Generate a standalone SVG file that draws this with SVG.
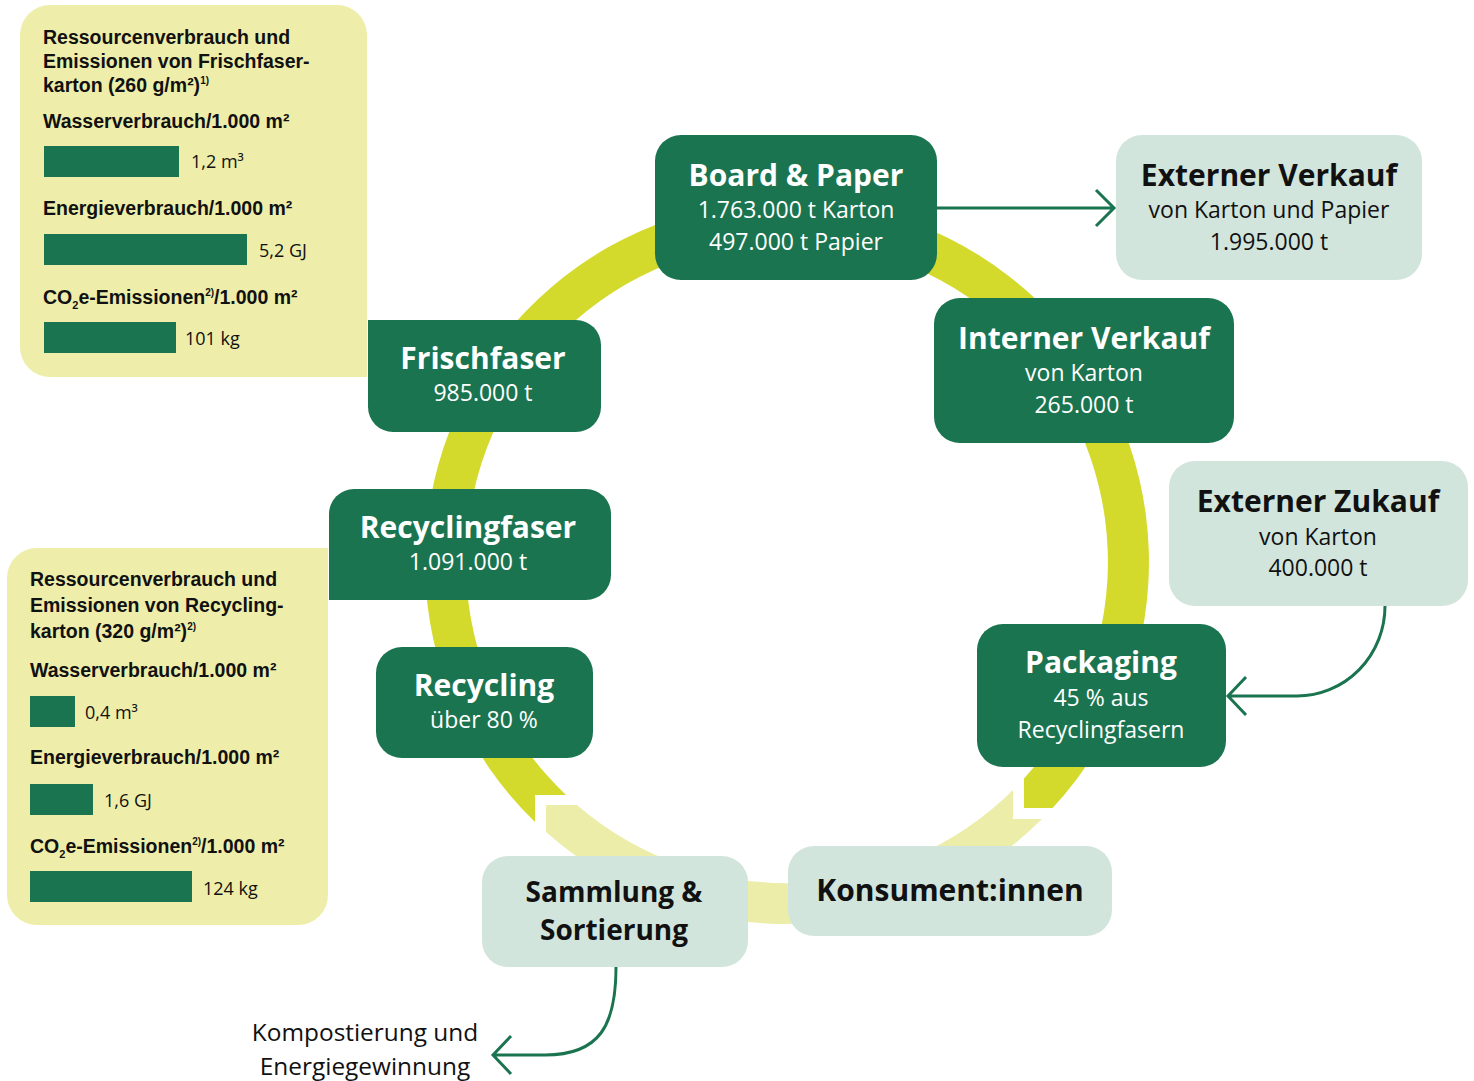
<svg xmlns="http://www.w3.org/2000/svg" width="1474" height="1081" viewBox="0 0 1474 1081">
<style>
.dk{fill:#1B7450}
.lt{fill:#D2E5DC}
.pn{fill:#EEEEAA}
.bar{fill:#1B7450}
text{font-family:"Open Sans","Liberation Sans",sans-serif}
.tw{font-weight:700;font-size:30px;fill:#fff;text-anchor:middle}
.tb{font-weight:700;font-size:30px;fill:#111;text-anchor:middle}
.sw{font-size:23px;fill:#fff;text-anchor:middle}
.sb{font-size:23px;fill:#111;text-anchor:middle}
.ph{font-family:"Liberation Sans",Arial,sans-serif;font-weight:700;font-size:19.5px;fill:#111}
.pv{font-size:18px;fill:#111}
.con{fill:none;stroke:#1B7450;stroke-width:3}
</style>
<g id="ring">
<path fill="#D4DA2C" d="M535,822 A362,362 0 1 1 1052.6,808 L1024,808 L1024,778.5 A321,321 0 1 0 566,795 L535,795 Z"/>
<path fill="#EDEDAA" d="M1042,819 A362,362 0 0 1 546,832 L546,805 L577,805 A321,321 0 0 0 1013,790 L1013,819 Z"/>
</g>
<g id="panel-frischfaser">
<path class="pn" d="M50,5 H337 A30,30 0 0 1 367,35 V377 H50 A30,30 0 0 1 20,347 V35 A30,30 0 0 1 50,5 Z"/>
<text class="ph" x="43" y="44">Ressourcenverbrauch und</text>
<text class="ph" x="43" y="68">Emissionen von Frischfaser-</text>
<text class="ph" x="43" y="92">karton (260 g/m²)<tspan style="font-size:10px" dy="-8">1)</tspan></text>
<text class="ph" x="43" y="128">Wasserverbrauch/1.000 m²</text>
<rect class="bar" x="44" y="146" width="135" height="31"/>
<text class="pv" x="191" y="168">1,2 m³</text>
<text class="ph" x="43" y="215">Energieverbrauch/1.000 m²</text>
<rect class="bar" x="44" y="234" width="203" height="31"/>
<text class="pv" x="259" y="257">5,2 GJ</text>
<text class="ph" x="43" y="304">CO<tspan style="font-size:11px" dy="5">2</tspan><tspan dy="-5">e-Emissionen</tspan><tspan style="font-size:10px" dy="-8">2)</tspan><tspan dy="8">/1.000 m²</tspan></text>
<rect class="bar" x="44" y="322" width="132" height="31"/>
<text class="pv" x="185" y="345">101 kg</text>
</g>
<g id="panel-recycling">
<path class="pn" d="M37,548 H328 V895 A30,30 0 0 1 298,925 H37 A30,30 0 0 1 7,895 V578 A30,30 0 0 1 37,548 Z"/>
<text class="ph" x="30" y="586">Ressourcenverbrauch und</text>
<text class="ph" x="30" y="612">Emissionen von Recycling-</text>
<text class="ph" x="30" y="638">karton (320 g/m²)<tspan style="font-size:10px" dy="-8">2)</tspan></text>
<text class="ph" x="30" y="677">Wasserverbrauch/1.000 m²</text>
<rect class="bar" x="30" y="696" width="45" height="31"/>
<text class="pv" x="85" y="719">0,4 m³</text>
<text class="ph" x="30" y="764">Energieverbrauch/1.000 m²</text>
<rect class="bar" x="30" y="784" width="63" height="31"/>
<text class="pv" x="104" y="807">1,6 GJ</text>
<text class="ph" x="30" y="853">CO<tspan style="font-size:11px" dy="5">2</tspan><tspan dy="-5">e-Emissionen</tspan><tspan style="font-size:10px" dy="-8">2)</tspan><tspan dy="8">/1.000 m²</tspan></text>
<rect class="bar" x="30" y="871" width="162" height="31"/>
<text class="pv" x="203" y="895">124 kg</text>
</g>
<g id="connectors">
<path class="con" d="M937,208 H1113 M1096,190 L1114,208 L1096,226"/>
<path class="con" d="M1385,606 A88,90 0 0 1 1297,696 H1229 M1246,677 L1228,696 L1246,715"/>
<path class="con" d="M616,967 C616,1025 600,1055 545,1055 H494 M511,1036 L493,1055 L511,1074"/>
</g>
<g id="board-paper">
<rect class="dk" x="655" y="135" width="282" height="145" rx="26"/>
<text class="tw" x="796" y="186">Board &amp; Paper</text>
<text class="sw" x="796" y="218">1.763.000 t Karton</text>
<text class="sw" x="796" y="250">497.000 t Papier</text>
</g>
<g id="externer-verkauf">
<rect class="lt" x="1116" y="135" width="306" height="145" rx="26"/>
<text class="tb" x="1269" y="186">Externer Verkauf</text>
<text class="sb" x="1269" y="218">von Karton und Papier</text>
<text class="sb" x="1269" y="250">1.995.000 t</text>
</g>
<g id="interner-verkauf">
<rect class="dk" x="934" y="298" width="300" height="145" rx="26"/>
<text class="tw" x="1084" y="349">Interner Verkauf</text>
<text class="sw" x="1084" y="381">von Karton</text>
<text class="sw" x="1084" y="413">265.000 t</text>
</g>
<g id="externer-zukauf">
<rect class="lt" x="1169" y="461" width="299" height="145" rx="26"/>
<text class="tb" x="1318" y="512">Externer Zukauf</text>
<text class="sb" x="1318" y="545">von Karton</text>
<text class="sb" x="1318" y="576">400.000 t</text>
</g>
<g id="packaging">
<rect class="dk" x="977" y="624" width="249" height="143" rx="26"/>
<text class="tw" x="1101" y="673">Packaging</text>
<text class="sw" x="1101" y="706">45 % aus</text>
<text class="sw" x="1101" y="738">Recyclingfasern</text>
</g>
<g id="konsumenten">
<rect class="lt" x="788" y="846" width="324" height="90" rx="26"/>
<text class="tb" x="950" y="901">Konsument:innen</text>
</g>
<g id="sammlung">
<rect class="lt" x="482" y="856" width="266" height="111" rx="26"/>
<text class="tb" x="614" y="902" style="font-size:28px">Sammlung &amp;</text>
<text class="tb" x="614" y="940" style="font-size:28px">Sortierung</text>
</g>
<g id="recycling">
<rect class="dk" x="376" y="647" width="217" height="111" rx="26"/>
<text class="tw" x="484" y="696">Recycling</text>
<text class="sw" x="484" y="728">über 80 %</text>
</g>
<g id="recyclingfaser">
<path class="dk" d="M354,489 H586 A25,25 0 0 1 611,514 V575 A25,25 0 0 1 586,600 H329 V514 A25,25 0 0 1 354,489 Z"/>
<text class="tw" x="468" y="538">Recyclingfaser</text>
<text class="sw" x="468" y="570">1.091.000 t</text>
</g>
<g id="frischfaser">
<path class="dk" d="M368,320 H576 A25,25 0 0 1 601,345 V407 A25,25 0 0 1 576,432 H393 A25,25 0 0 1 368,407 Z"/>
<text class="tw" x="483" y="369">Frischfaser</text>
<text class="sw" x="483" y="401">985.000 t</text>
</g>
<g id="kompostierung">
<text class="sb" x="365" y="1041" style="font-size:24.4px">Kompostierung und</text>
<text class="sb" x="365" y="1075" style="font-size:24.4px">Energiegewinnung</text>
</g>
</svg>
